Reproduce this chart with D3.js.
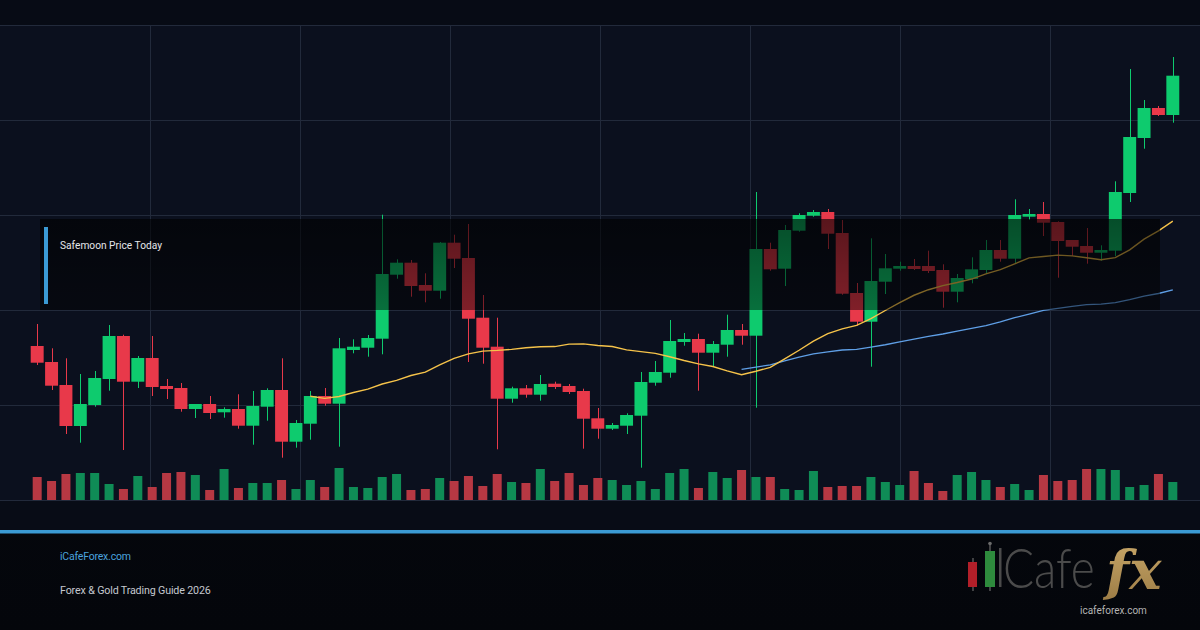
<!DOCTYPE html>
<html>
<head>
<meta charset="utf-8">
<script src="https://cdn.jsdelivr.net/npm/d3@7"></script>
<style>
html,body{margin:0;padding:0;background:#060910;}
svg{display:block;}
</style>
</head>
<body>
<svg id="chart" width="1200" height="630"></svg>
<script>
// ---------- DATA ----------
const title = "Safemoon Price Today";
const footerSite = "iCafeForex.com";
const footerGuide = "Forex & Gold Trading Guide 2026";
const logoUrl = "icafeforex.com";

// candle index (80 sessions)
const categories = d3.range(80);

const opens  = [154,138,115,74,95,121,164,118.3,142,114,112,91,96,87.7,91,74.3,93.3,110,58.3,76.3,
  104,96.3,150,152.3,161.3,225.3,237.3,215,209.3,257.3,242,182.3,153.3,101.3,111.7,105.3,116.3,114,109,81.7,
  71.3,74.3,84.3,117.3,127.3,158,161,147.3,155.3,170,164.3,251,231.3,269.3,284.3,288,267,207,178.3,218.3,
  231.3,234,234,230,208.3,221,230,250,241.3,283.3,286,278,260,254,247.3,249.3,307,362,392,385];
const highs  = [176,151.7,141.7,126,129,175,165.3,144,164,121,117,96,104,92.7,105.7,109,111.7,141.7,80,109,
  112,162,160.7,165,285.3,240.7,240,226.7,258,265.3,276,205,182.3,113.3,115,125,118.3,116,111.3,92,
  77,86.7,128,139,180,167,166.3,159,185.3,176,308,257.3,275,286.7,290,291,280,217,261.7,246,
  238.3,241,249.3,235.7,226,242.7,260,260,300.7,291,298,278.7,260,272,254.7,318.7,431,400,394,443];
const lows   = [135,110,66,57.3,93.3,109.3,50,112,104,101,88.3,82,81,82.3,71.3,55.3,79.3,42.3,52.3,60.3,
  94.3,53.3,146.7,143.3,145.7,221.3,203.3,197.7,201.3,232,138,136.3,50.7,97.3,102.3,99.3,111,106,51.3,61.3,
  70,66,32.3,114.3,122.3,154.3,109.3,133.3,143.3,155.3,92.3,229.3,214,268.3,283.3,251,205.3,174.3,133.3,206,
  229.3,230,227,192.3,197.7,216.7,226.7,238.3,236.7,280,264,222.3,244,236.3,239.3,244,298,351.3,384,377.3];
const closes = [137.3,114.3,74,96,122,164,118.3,142,113,111,91,96,87,91,74.3,94,110,58.3,77,104,
  96.3,151.7,153.3,162,226,237.3,214,209.3,257.3,241.3,181.3,152.3,101.3,111.7,105.3,116,113,108,81.3,71.3,
  75,85,118,128,159,161,147.3,156,170,164.3,251,230.7,270,285,288,266.3,206.3,178.3,219,231.7,
  234,231,229,208.3,222,230.7,250,241.3,285,286,277.3,259,253.3,247.3,250,308,363,392,385,424.3];
const volumes = [23,19,26,27,27,16,11,24,13,27,28,25,10,31,12,17,17,20,11,20,
  13,32,13,12,23,26,10,11,22,19,24,14,26,18,17,31,19,27,15,22,
  20,15,19,11,27,31,12,28,22,30,23,23,11,10,29,13,14,14,23,18,
  15,29,17,9,25,28,20,13,16,10,25,19,20,31,31,30,13,15,26,18];

// axis ticks (no labels shown in the picture)
const priceTicks = [0,95,190,285,380,475];
const timeGridTicks = [1,2,3,4,5,6,7];
const maPeriods = [20,50];

// ---------- DRAW ----------
const W = 1200, H = 630;
const svg = d3.select("#chart");
const defs = svg.append("defs");

const bgGrad = defs.append("linearGradient").attr("id","bgGrad").attr("x1",0).attr("y1",0).attr("x2",0).attr("y2",1);
bgGrad.append("stop").attr("offset","0%").attr("stop-color","#070a12");
bgGrad.append("stop").attr("offset","100%").attr("stop-color","#04060b");

const ovGrad = defs.append("linearGradient").attr("id","ovGrad").attr("x1",0).attr("y1",0).attr("x2",0).attr("y2",1);
ovGrad.append("stop").attr("offset","0%").attr("stop-color","#000").attr("stop-opacity",0.62);
ovGrad.append("stop").attr("offset","100%").attr("stop-color","#000").attr("stop-opacity",0.45);

const goldGrad = defs.append("linearGradient").attr("id","goldGrad").attr("x1",0).attr("y1",0).attr("x2",0).attr("y2",1);
goldGrad.append("stop").attr("offset","0%").attr("stop-color","#c9a86a");
goldGrad.append("stop").attr("offset","100%").attr("stop-color","#9c7c45");

svg.append("rect").attr("width",W).attr("height",H).attr("fill","url(#bgGrad)");

const x = d3.scaleBand().domain(categories).range([30,1180]).paddingInner(0.1).paddingOuter(0.05);
const y = d3.scaleLinear().domain([0,475]).range([500,25]);
const yVol = d3.scaleLinear().domain([0,40]).range([500,460]);
const xGrid = d3.scaleLinear().domain([0,8]).range([0,W]);
const cx = i => x(i) + x.bandwidth()/2;

// plot backgrounds
svg.append("rect").attr("x",0).attr("y",y(475)).attr("width",W).attr("height",y(0)-y(475)).attr("fill","#0b101e");
svg.append("rect").attr("x",0).attr("y",0).attr("width",W).attr("height",y(475)).attr("fill","#070b15");
svg.append("rect").attr("x",0).attr("y",y(0)).attr("width",W).attr("height",30).attr("fill","#080c16");

// grid
const grid = svg.append("g");
grid.selectAll("line.h").data(priceTicks).join("line")
  .attr("x1",0).attr("x2",W).attr("y1",d=>y(d)+0.5).attr("y2",d=>y(d)+0.5)
  .attr("stroke","#222a3b").attr("stroke-width",1);
grid.selectAll("line.v").data(timeGridTicks).join("line")
  .attr("x1",d=>xGrid(d)+0.5).attr("x2",d=>xGrid(d)+0.5).attr("y1",y(475)).attr("y2",y(0))
  .attr("stroke","#222a3b").attr("stroke-width",1);

const up = "#0ecb6e", down = "#e8394a";
const volUp = "#0f8c56", volDown = "#b73843";

// volume bars
const vw = 9;
svg.append("g").selectAll("rect").data(categories).join("rect")
  .attr("x",i=>cx(i)-vw/2).attr("width",vw)
  .attr("y",i=>yVol(volumes[i])).attr("height",i=>yVol(0)-yVol(volumes[i]))
  .attr("fill",i=>closes[i]>=opens[i]?volUp:volDown);

// candles
const cg = svg.append("g");
cg.selectAll("line").data(categories).join("line")
  .attr("x1",i=>Math.round(cx(i))+0.5).attr("x2",i=>Math.round(cx(i))+0.5)
  .attr("y1",i=>y(highs[i])).attr("y2",i=>y(lows[i]))
  .attr("stroke",i=>closes[i]>=opens[i]?up:down).attr("stroke-width",1);
cg.selectAll("rect").data(categories).join("rect")
  .attr("x",i=>x(i)).attr("width",x.bandwidth())
  .attr("y",i=>y(Math.max(opens[i],closes[i])))
  .attr("height",i=>Math.max(1.5, Math.abs(y(opens[i])-y(closes[i]))))
  .attr("fill",i=>closes[i]>=opens[i]?up:down);

// moving averages of the closes (the indicator the chart shows)
function sma(period){
  return categories.filter(i=>i>=period-1).map(i=>({i, v:d3.mean(closes.slice(i-period+1,i+1))}));
}
const line = d3.line().x(d=>cx(d.i)).y(d=>y(d.v));
svg.append("path").datum(sma(maPeriods[1])).attr("d",line)
  .attr("fill","none").attr("stroke","#5f9fe6").attr("stroke-width",1.3);
svg.append("path").datum(sma(maPeriods[0])).attr("d",line)
  .attr("fill","none").attr("stroke","#f6c34a").attr("stroke-width",1.4);

// title overlay box
svg.append("rect").attr("x",40).attr("y",219).attr("width",1120).attr("height",91).attr("fill","url(#ovGrad)");
svg.append("rect").attr("x",44).attr("y",227).attr("width",4).attr("height",77).attr("fill","#3b9ad4");
svg.append("text").attr("x",60).attr("y",249).text(title)
  .attr("font-family","Roboto, 'Noto Sans', sans-serif").attr("font-size",10.2).attr("fill","#e4e6ea");

// footer
svg.append("rect").attr("x",0).attr("y",530).attr("width",W).attr("height",3.5).attr("fill","#3b9ad4");
svg.append("text").attr("x",60).attr("y",560).text(footerSite)
  .attr("font-family","Roboto, 'Noto Sans', sans-serif").attr("font-size",10.5).attr("fill","#4aa2dc").attr("letter-spacing",-0.2);
svg.append("text").attr("x",60).attr("y",594).text(footerGuide)
  .attr("font-family","Roboto, 'Noto Sans', sans-serif").attr("font-size",10.7).attr("fill","#c4c8cf").attr("letter-spacing",-0.15);

// logo
const logo = svg.append("g");
logo.append("line").attr("x1",973).attr("x2",973).attr("y1",558).attr("y2",591).attr("stroke","#6b6b6b").attr("stroke-width",1.2);
logo.append("rect").attr("x",968).attr("y",562).attr("width",9).attr("height",25).attr("fill","#b21f29");
logo.append("line").attr("x1",990).attr("x2",990).attr("y1",544).attr("y2",591).attr("stroke","#6b6b6b").attr("stroke-width",1.2);
logo.append("circle").attr("cx",990).attr("cy",543.5).attr("r",1.8).attr("fill","#6b6b6b");
logo.append("rect").attr("x",985).attr("y",551).attr("width",10).attr("height",36).attr("fill","#2e8b3d");
logo.append("rect").attr("x",999).attr("y",548).attr("width",2.5).attr("height",39).attr("fill","#4a4a4a");
logo.append("text").attr("transform","translate(1003,588) scale(1,1.2)").text("Cafe")
  .attr("font-family","Lato, 'Open Sans', sans-serif").attr("font-weight",300).attr("font-size",46)
  .attr("fill","#4b4b4b");
logo.append("text").attr("x",1106).attr("y",589).text("fx")
  .attr("font-family","'DejaVu Serif', 'Liberation Serif', serif").attr("font-style","italic").attr("font-weight","bold")
  .attr("font-size",54).attr("fill","url(#goldGrad)");
logo.append("text").attr("x",1080).attr("y",614).text(logoUrl)
  .attr("font-family","Roboto, 'Noto Sans', sans-serif").attr("font-size",10).attr("fill","#b4b4b4");
</script>
</body>
</html>
